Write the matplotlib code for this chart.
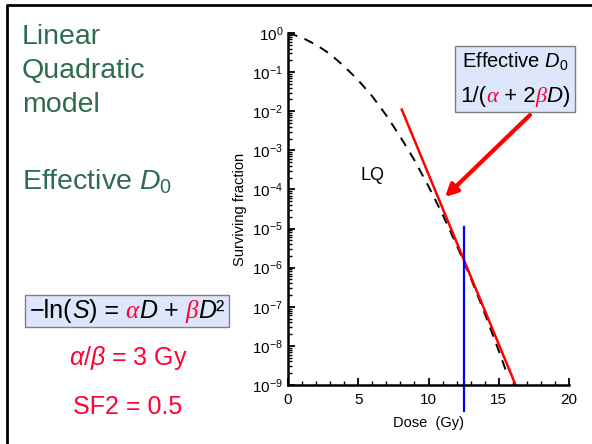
import matplotlib
matplotlib.use("Agg")
import matplotlib.pyplot as plt
import matplotlib.ticker as ticker
from matplotlib.lines import Line2D
from matplotlib.offsetbox import TextArea, HPacker, VPacker, AnnotationBbox

# ─── Data ────────────────────────────────────────────────────────────────────
lq_dose = [0, 1, 2, 3, 4, 5, 6, 7, 8, 9, 10, 11, 12, 13, 14, 15, 15.6]
lq_sf = [1.0, 0.76, 0.5, 0.29, 0.14, 0.062, 0.024, 7.8e-3, 2.2e-3, 5.6e-4,
         1.2e-4, 2.3e-5, 3.8e-6, 5.5e-7, 6.8e-8, 7.5e-9, 1.9e-9]
tangent_dose = [8.1, 16.2]
tangent_sf = [1.1e-2, 1e-9]
marker_dose = [12.55, 12.55]
marker_sf = [2.2e-10, 1.1e-5]
x_ticks = [0, 5, 10, 15, 20]

RED_TXT = "#ff0033"
GREEN = "#2f6b4f"
BOX_FC = "#dde6fb"

plt.rcParams.update({
    "font.family": "sans-serif",
    "font.sans-serif": ["Liberation Sans", "DejaVu Sans"],
    "mathtext.fontset": "custom",
    "mathtext.rm": "Liberation Sans",
    "mathtext.it": "Liberation Sans:italic",
    "mathtext.bf": "Liberation Sans:bold",
})

W, H = 592, 444
fig = plt.figure(figsize=(W / 100, H / 100), dpi=100)


def fx(px):
    return px / W


def fy(py):
    return 1 - py / H


# slide frame (left + top edge)
fig.add_artist(Line2D([fx(7), fx(7), 1.0], [0.0, fy(5), fy(5)],
                      color="black", lw=2, transform=fig.transFigure))

ax = fig.add_axes([fx(288), fy(385), fx(569) - fx(288), fy(33) - fy(385)])
ax.set_yscale("log")
ax.set_xlim(0, 20)
ax.set_ylim(1e-9, 1)

ax.plot(lq_dose, lq_sf, color="black", lw=1.4, dashes=(5, 4))
ax.plot(tangent_dose, tangent_sf, color="red", lw=1.8)
ax.plot(marker_dose, marker_sf, color="#0000ff", lw=1.6, clip_on=False)

for s in ["top", "right"]:
    ax.spines[s].set_visible(False)
for s in ["left", "bottom"]:
    ax.spines[s].set_linewidth(1.8)

ax.set_xticks(x_ticks)
ax.xaxis.set_minor_locator(ticker.MultipleLocator(1))
ax.yaxis.set_major_locator(ticker.LogLocator(base=10, numticks=20))
ax.yaxis.set_minor_locator(ticker.LogLocator(base=10, subs=range(2, 10), numticks=20))
ax.yaxis.set_minor_formatter(ticker.NullFormatter())
ax.tick_params(which="both", direction="in", labelsize=11)
ax.tick_params(which="major", length=5, width=1.3)
ax.tick_params(which="minor", length=3, width=1)
ax.tick_params(axis="x", pad=6)
ax.set_xlabel("Dose  (Gy)", fontsize=10.5, labelpad=6)
ax.set_ylabel("Surviving fraction", fontsize=10.5, labelpad=4)

ax.text(fx(372), fy(175), "LQ", transform=fig.transFigure, fontsize=13,
        ha="center", va="center")

# ─── Left side slide text ────────────────────────────────────────────────────
for txt, py in [("Linear", 37), ("Quadratic", 71), ("model", 105)]:
    fig.text(fx(22), fy(py), txt, fontsize=20.5, color=GREEN, va="center")
fig.text(fx(22), fy(182), r"Effective $\mathit{D}_0$", fontsize=20.5,
         color=GREEN, va="center")
fig.text(fx(128), fy(358), r"$\mathit{\alpha/\beta}$ = 3 Gy", fontsize=18,
         color=RED_TXT, ha="center", va="center")
fig.text(fx(128), fy(407), "SF2 = 0.5", fontsize=18, color=RED_TXT,
         ha="center", va="center")


def piece(t, size, color="black", style="normal", family=None):
    props = dict(color=color, fontsize=size, fontstyle=style)
    if family:
        props["family"] = family
    return TextArea(t, textprops=props)


def colored_row(parts):
    return HPacker(children=parts, align="baseline", pad=0, sep=0)


GREEK = "Liberation Serif"

# −ln(S) = αD + βD² box
fs = 18
row = colored_row([piece("\u2212ln(", fs), piece("S", fs, style="italic"),
                   piece(") = ", fs),
                   piece("\u03b1", fs, RED_TXT, "italic", GREEK),
                   piece("D", fs, style="italic"), piece(" + ", fs),
                   piece("\u03b2", fs, RED_TXT, "italic", GREEK),
                   piece("D", fs, style="italic"), piece("\u00b2", fs)])
ab = AnnotationBbox(row, (fx(127), fy(311)), xycoords="figure fraction",
                    frameon=True, pad=0.3, box_alignment=(0.5, 0.5),
                    bboxprops=dict(facecolor=BOX_FC, edgecolor="#7f7f7f", lw=1))
fig.add_artist(ab)

# Effective D0 box
line1 = TextArea(r"Effective $\mathit{D}_0$", textprops=dict(fontsize=14.5))
fs2 = 16
line2 = colored_row([piece("1/(", fs2),
                     piece("\u03b1", fs2, RED_TXT, "italic", GREEK),
                     piece(" + 2", fs2),
                     piece("\u03b2", fs2, RED_TXT, "italic", GREEK),
                     piece("D", fs2, style="italic"), piece(")", fs2)])
stack = VPacker(children=[line1, line2], align="center", pad=0, sep=9)
ab2 = AnnotationBbox(stack, (fx(515), fy(79)), xycoords="figure fraction",
                     frameon=True, pad=0.35, box_alignment=(0.5, 0.5),
                     bboxprops=dict(facecolor=BOX_FC, edgecolor="#7f7f7f", lw=1))
fig.add_artist(ab2)

ax.annotate("", xy=(fx(445), fy(197)), xycoords="figure fraction",
            xytext=(fx(530), fy(115)), textcoords="figure fraction",
            arrowprops=dict(arrowstyle="-|>", color="red", lw=3,
                            mutation_scale=18, shrinkA=0, shrinkB=0),
            annotation_clip=False)

fig.savefig("out.png", dpi=100)
